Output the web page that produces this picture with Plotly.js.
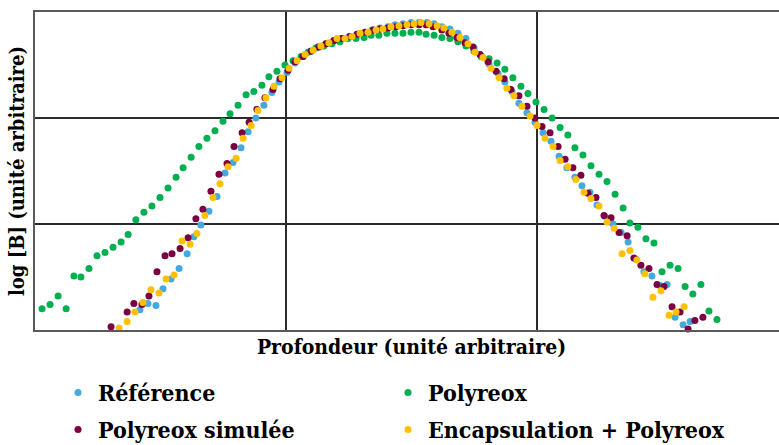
<!DOCTYPE html>
<html>
<head>
<meta charset="utf-8">
<script src="https://cdn.plot.ly/plotly-3.0.1.min.js"></script>
<style>
html, body { margin: 0; padding: 0; overflow: hidden; background: #fff; }
#chart { width: 788px; height: 445px; }
</style>
</head>
<body>
<div id="chart"></div>
<script>
// Profondeur (unité arbitraire) and log [B] (unité arbitraire)
const seriesNames = ["Référence", "Polyreox", "Polyreox simulée", "Encapsulation + Polyreox"];

const refX = [41.8,45.0,48.2,51.0,54.2,57.4,60.6,63.3,66.1,69.3,72.5,75.7,78.9,82.1,84.9,88.0,91.2,94.4,97.2,100.4,103.6,106.8,109.6,112.7,115.9,119.1,121.9,125.1,128.3,131.5,134.3,137.4,140.6,143.4,146.6,149.8,153.0,156.2,159.0,162.1,165.3,168.5,171.7,174.9,178.1,180.9,184.5,187.2,190.0,192.8,196.0,199.2,202.4,205.6,208.8,211.9,215.1,217.9,221.1,223.9,227.1,230.3,233.5,236.3,239.4,242.6,245.8,249.0,251.8,255.0,258.2,261.0];
const refY = [1.9,2.5,2.3,3.9,4.8,5.8,7.2,8.8,9.9,11.2,12.6,14.8,15.8,17.2,18.7,20.0,21.2,22.4,23.4,24.3,25.2,25.8,26.3,26.7,27.0,27.3,27.5,27.7,27.9,28.1,28.3,28.5,28.6,28.8,28.9,29.0,29.0,29.0,28.9,28.6,28.4,28.0,27.5,26.6,25.8,25.1,24.2,23.4,22.5,21.4,20.5,19.6,18.6,17.8,16.4,15.3,14.4,13.6,13.0,11.8,10.7,10.0,9.2,8.3,6.7,5.5,5.1,4.2,4.3,1.2,0.5,0.8];

const polyX = [2.8,6.0,9.2,12.4,15.5,18.3,21.5,24.7,27.9,31.1,34.3,37.1,40.2,43.4,46.6,49.8,53.0,56.2,59.0,62.2,65.3,68.5,71.7,74.9,77.7,80.9,84.1,87.2,90.4,93.2,96.4,99.6,102.8,106.0,108.8,111.9,115.1,118.3,121.5,124.7,127.9,131.1,133.9,137.0,140.2,143.4,146.6,149.8,153.0,155.8,159.0,162.1,165.3,168.5,171.7,174.9,177.7,180.9,184.1,187.2,190.4,193.6,196.4,199.6,202.8,206.0,209.2,212.3,215.1,218.3,221.5,224.7,227.9,231.1,234.3,237.0,240.2,243.4,246.6,249.8,253.0,256.2,259.0,262.1,265.3,268.5,271.7];
const polyY = [2.0,2.4,3.2,2.0,5.1,5.0,5.8,7.0,7.3,7.8,8.3,9.0,10.4,11.1,11.7,12.5,13.4,14.4,15.3,16.3,17.3,18.1,18.8,19.7,20.4,21.2,22.2,22.5,23.1,23.9,24.4,25.0,25.4,25.8,26.2,26.6,26.8,27.0,27.2,27.5,27.5,27.6,27.8,27.8,28.0,28.0,28.0,28.1,28.1,27.9,27.8,27.6,27.5,27.2,26.8,26.3,25.8,25.6,25.2,24.6,23.8,23.0,22.3,21.5,20.8,20.0,19.1,18.4,17.2,16.5,15.5,14.7,14.0,12.8,11.5,10.1,9.7,8.6,8.2,5.5,6.1,5.8,4.1,3.4,4.3,1.8,1.0];

const simX = [30.3,36.7,39.4,42.6,45.4,48.6,51.8,54.6,57.8,61.0,64.1,66.9,70.1,73.3,76.5,79.3,82.5,85.3,88.4,91.6,94.8,97.6,100.8,103.6,106.8,110.0,113.1,115.9,119.1,122.3,125.5,128.3,131.5,134.7,137.4,140.6,143.8,146.6,149.8,153.0,155.8,158.6,162.1,164.9,168.1,171.3,174.5,177.3,180.5,183.7,186.9,189.6,192.8,196.0,199.2,202.0,205.2,208.4,211.2,214.3,217.5,220.3,223.5,226.7,229.5,232.7,235.9,238.6,241.4,244.6,247.8,250.6,253.8,257.0,260.2,262.9,266.1];
const simY = [0.3,1.7,2.5,2.4,3.2,5.5,7.0,7.2,7.7,8.7,10.5,11.4,13.1,14.7,15.7,17.3,18.6,19.6,20.8,21.9,22.7,23.7,24.5,25.3,25.8,26.3,26.7,27.0,27.3,27.5,27.7,27.9,28.1,28.3,28.4,28.5,28.6,28.7,28.8,28.8,28.8,28.6,28.3,28.0,27.6,27.1,26.7,26.0,25.3,24.4,23.7,22.7,22.1,21.1,20.0,19.2,18.6,17.3,16.1,15.3,14.6,12.9,12.5,10.8,10.6,9.2,8.9,6.8,6.1,5.8,4.3,4.1,2.2,1.7,0.1,0.9,1.2];

const encX = [33.5,36.7,39.8,43.0,46.2,49.4,52.2,55.4,58.6,61.8,64.5,67.7,70.9,73.7,76.9,80.1,82.9,86.1,88.8,92.0,95.2,98.4,101.2,104.4,107.6,110.8,113.9,117.1,120.3,123.5,126.3,129.5,132.7,135.9,138.6,141.8,145.0,148.2,151.0,153.8,157.0,160.2,162.9,166.1,169.3,172.5,175.3,178.5,181.7,184.9,188.0,190.8,194.0,197.2,200.0,203.2,206.4,209.2,212.3,215.5,218.7,221.5,224.7,227.9,230.7,233.9,237.0,239.8,243.0,246.2,249.4,252.6,255.4,258.6];
const encY = [0.2,0.8,1.7,2.6,3.8,3.5,4.8,5.2,8.4,8.1,9.1,10.8,12.5,13.8,15.4,16.2,18.1,19.3,20.7,21.9,23.0,23.8,24.7,25.4,26.0,26.4,26.8,27.1,27.5,27.5,27.7,28.0,28.1,28.3,28.4,28.6,28.7,28.8,28.9,29.0,28.9,28.7,28.5,28.1,27.6,27.0,26.2,25.7,24.7,23.8,22.8,22.1,21.1,20.2,19.3,18.1,17.3,16.0,15.4,14.2,13.0,12.4,11.7,10.2,9.6,7.2,7.5,6.6,5.3,3.1,3.7,1.4,1.7,2.2];

const colors = ["#45A9DE", "#00B050", "#7A0041", "#FFC000"];
const legendIds = ["legend", "legend2", "legend3", "legend4"];
const xs = [refX, polyX, simX, encX];
const ys = [refY, polyY, simY, encY];

const traces = seriesNames.map((name, i) => ({
  type: "scatter",
  mode: "markers",
  name: "<b>" + name + "</b>",
  legend: legendIds[i],
  x: xs[i],
  y: ys[i],
  marker: { color: colors[i], size: 7, line: { width: 0 } },
  cliponaxis: false
}));

const serifC = "'DejaVu Serif Condensed', 'DejaVu Serif', serif";

function legendAt(x, y) {
  return {
    orientation: "h",
    xref: "container",
    yref: "container",
    x: x,
    xanchor: "left",
    y: y,
    yanchor: "top",
    font: { family: serifC, size: 23, color: "#000" },
    bgcolor: "rgba(0,0,0,0)"
  };
}

const colX = [58 / 788, 388 / 788];
const rowY = [0.1663, 0.0831];

const layout = {
  width: 788,
  height: 445,
  margin: { l: 35, r: 0, t: 12, b: 115 },
  font: { family: serifC, color: "#000" },
  paper_bgcolor: "#fff",
  plot_bgcolor: "#fff",
  showlegend: true,
  xaxis: {
    range: [0, 300],
    dtick: 100,
    tick0: 0,
    automargin: false,
    showgrid: true,
    gridcolor: "#2b2b2b",
    gridwidth: 1.3,
    zeroline: false,
    showticklabels: false,
    ticks: "",
    showline: true,
    linecolor: "#595959",
    linewidth: 2,
    mirror: true,
    title: { text: "<b>Profondeur (unité arbitraire)</b>", font: { family: serifC, size: 21, color: "#000" }, standoff: 8 }
  },
  yaxis: {
    range: [0, 30],
    dtick: 10,
    tick0: 0,
    automargin: false,
    showgrid: true,
    gridcolor: "#2b2b2b",
    gridwidth: 1.3,
    zeroline: false,
    showticklabels: false,
    ticks: "",
    showline: true,
    linecolor: "#595959",
    linewidth: 2,
    mirror: true,
    title: { text: "<b>log [B] (unité arbitraire)</b>", font: { family: serifC, size: 20, color: "#000" }, standoff: 3 }
  },
  legend: legendAt(colX[0], rowY[0]),
  legend2: legendAt(colX[1], rowY[0]),
  legend3: legendAt(colX[0], rowY[1]),
  legend4: legendAt(colX[1], rowY[1])
};

Plotly.newPlot("chart", traces, layout, { displayModeBar: false, staticPlot: true });
</script>
</body>
</html>
